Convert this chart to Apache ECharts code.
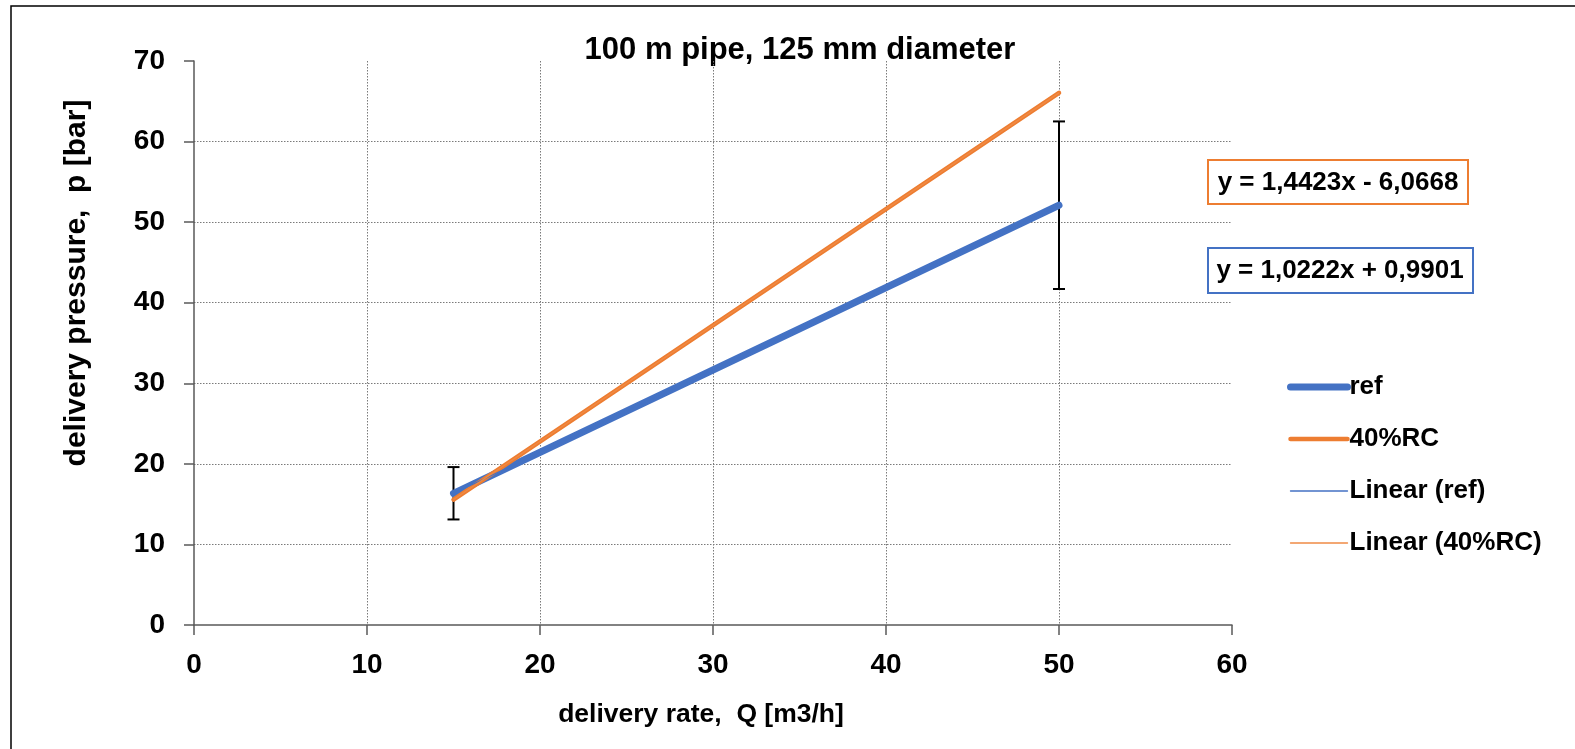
<!DOCTYPE html>
<html>
<head>
<meta charset="utf-8">
<title>100 m pipe, 125 mm diameter</title>
<script src="https://cdn.jsdelivr.net/npm/echarts@6/dist/echarts.min.js"></script>
<style>
  html, body { margin: 0; padding: 0; background: #ffffff; }
  #chart { width: 1575px; height: 749px; }
</style>
</head>
<body>
<div id="chart"></div>
<script>
// Delivery rate Q [m3/h] of the two measured points
const deliveryRate = [15, 50];
// Delivery pressure p [bar]
const refPressure = [16.32, 52.10];
const rcPressure = [15.57, 66.05];
// Error bar limits on the ref series [bar]
const refErrLow = [13.1, 41.7];
const refErrHigh = [19.6, 62.5];
// Linear trend coefficients: [slope, intercept]
const refTrend = [1.0222, 0.9901];
const rcTrend = [1.4423, -6.0668];
// Axis ranges
const xTicks = [0, 10, 20, 30, 40, 50, 60];
const yTicks = [0, 10, 20, 30, 40, 50, 60, 70];

const BLUE = '#4472C4';
const ORANGE = '#ED7D31';
const SANS = '"Liberation Sans", Arial, sans-serif';

function trendPoints(coef) {
  return deliveryRate.map(x => [x, coef[0] * x + coef[1]]);
}
function fmtNum(v) {
  return Math.abs(v).toFixed(4).replace('.', ',');
}
function equation(coef) {
  return 'y = ' + fmtNum(coef[0]) + 'x ' + (coef[1] < 0 ? '-' : '+') + ' ' + fmtNum(coef[1]);
}

const chart = echarts.init(document.getElementById('chart'), null, { renderer: 'canvas' });

const axisLabelStyle = { fontFamily: SANS, fontWeight: 'bold', fontSize: 28, color: '#000' };
const gridLine = { show: true, showMaxLine: false, showMinLine: false, lineStyle: { color: '#7a7a7a', width: 1, type: [1.5, 1.5] } };
const axisLine = { show: true, onZero: false, lineStyle: { color: '#595959', width: 1.5 } };

const option = {
  animation: false,
  backgroundColor: '#ffffff',
  grid: { left: 194, right: 343, top: 61, bottom: 124, containLabel: false },
  xAxis: {
    type: 'value',
    min: xTicks[0], max: xTicks[xTicks.length - 1], interval: xTicks[1] - xTicks[0],
    axisLine: axisLine,
    axisTick: { show: true, length: 10, lineStyle: { color: '#595959', width: 1.5 } },
    axisLabel: Object.assign({ margin: 26 }, axisLabelStyle),
    splitLine: gridLine
  },
  yAxis: {
    type: 'value',
    min: yTicks[0], max: yTicks[yTicks.length - 1], interval: yTicks[1] - yTicks[0],
    axisLine: axisLine,
    axisTick: { show: true, length: 10, lineStyle: { color: '#595959', width: 1.5 } },
    axisLabel: Object.assign({ margin: 29 }, axisLabelStyle),
    splitLine: gridLine
  },
  legend: {
    orient: 'vertical',
    left: 1282,
    top: 367,
    itemWidth: 57,
    itemHeight: 2,
    itemGap: 22,
    selectedMode: false,
    itemStyle: { opacity: 0 },
    lineStyle: { width: 'inherit', cap: 'round' },
    textStyle: { fontFamily: SANS, fontWeight: 'bold', fontSize: 26, lineHeight: 30, color: '#000', padding: [0, 0, 0, -3] },
    data: ['ref', '40%RC', 'Linear (ref)', 'Linear (40%RC)']
  },
  series: [
    {
      name: 'error',
      type: 'custom',
      z: 1,
      data: deliveryRate.map((x, i) => [x, refErrLow[i], refErrHigh[i]]),
      encode: { x: 0, y: [1, 2] },
      renderItem: function (params, api) {
        const x = api.value(0);
        const lo = api.coord([x, api.value(1)]);
        const hi = api.coord([x, api.value(2)]);
        const hw = 6;
        const st = { stroke: '#000', lineWidth: 2 };
        return {
          type: 'group',
          children: [
            { type: 'line', shape: { x1: lo[0], y1: lo[1], x2: hi[0], y2: hi[1] }, style: st },
            { type: 'line', shape: { x1: hi[0] - hw, y1: hi[1], x2: hi[0] + hw, y2: hi[1] }, style: st },
            { type: 'line', shape: { x1: lo[0] - hw, y1: lo[1], x2: lo[0] + hw, y2: lo[1] }, style: st }
          ]
        };
      }
    },
    {
      name: 'ref', type: 'line', z: 3, symbol: 'none',
      data: deliveryRate.map((x, i) => [x, refPressure[i]]),
      itemStyle: { color: BLUE },
      lineStyle: { color: BLUE, width: 7, cap: 'round' }
    },
    {
      name: '40%RC', type: 'line', z: 4, symbol: 'none',
      data: deliveryRate.map((x, i) => [x, rcPressure[i]]),
      itemStyle: { color: ORANGE },
      lineStyle: { color: ORANGE, width: 4.5, cap: 'round' }
    },
    {
      name: 'Linear (ref)', type: 'line', z: 5, symbol: 'none',
      data: trendPoints(refTrend),
      itemStyle: { color: BLUE },
      lineStyle: { color: BLUE, width: 1.3 }
    },
    {
      name: 'Linear (40%RC)', type: 'line', z: 5, symbol: 'none',
      data: trendPoints(rcTrend),
      itemStyle: { color: '#F08A45' },
      lineStyle: { color: '#F08A45', width: 1.3 }
    }
  ],
  graphic: [
    { type: 'rect', silent: true, shape: { x: 11, y: 6, width: 1700, height: 900 }, style: { fill: 'none', stroke: '#000', lineWidth: 1.5 } },
    { type: 'text', x: 800, y: 50, style: { text: '100 m pipe, 125 mm diameter', fontFamily: SANS, fontWeight: 'bold', fontSize: 31, fill: '#000', textAlign: 'center', textVerticalAlign: 'middle' } },
    { type: 'text', x: 701, y: 715, style: { text: 'delivery rate,  Q [m3/h]', fontFamily: SANS, fontWeight: 'bold', fontSize: 26.5, fill: '#000', textAlign: 'center', textVerticalAlign: 'middle' } },
    { type: 'text', x: 77, y: 283, rotation: Math.PI / 2, style: { text: 'delivery pressure,  p [bar]', fontFamily: SANS, fontWeight: 'bold', fontSize: 30, fill: '#000', textAlign: 'center', textVerticalAlign: 'middle' } },
    { type: 'rect', shape: { x: 1208, y: 160, width: 260, height: 44 }, style: { fill: '#fff', stroke: ORANGE, lineWidth: 2 } },
    { type: 'text', x: 1338, y: 183, style: { text: equation(rcTrend), fontFamily: SANS, fontWeight: 'bold', fontSize: 26, fill: '#000', textAlign: 'center', textVerticalAlign: 'middle' } },
    { type: 'rect', shape: { x: 1208, y: 248, width: 265, height: 45 }, style: { fill: '#fff', stroke: BLUE, lineWidth: 2 } },
    { type: 'text', x: 1340, y: 271, style: { text: equation(refTrend), fontFamily: SANS, fontWeight: 'bold', fontSize: 26, fill: '#000', textAlign: 'center', textVerticalAlign: 'middle' } }
  ]
};

chart.setOption(option);
</script>
</body>
</html>
